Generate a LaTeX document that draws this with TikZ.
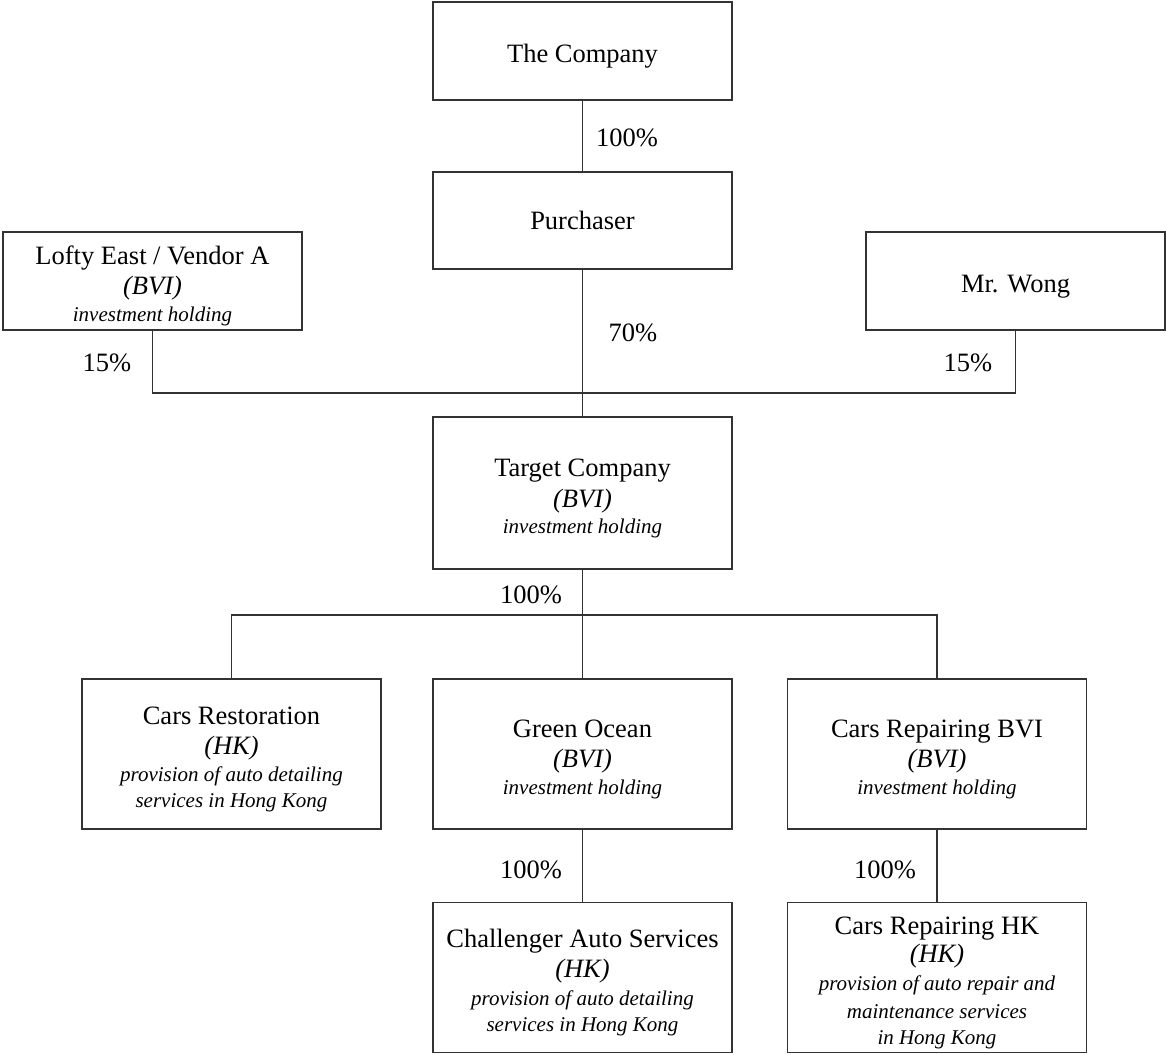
\documentclass[tikz,border=0pt]{standalone}
\usepackage{fontspec}
\setmainfont{Liberation Serif}
\newcommand{\subline}{\fontsize{8.4}{10.4}\selectfont\itshape}
\newcommand{\placeline}{\itshape}
\newcommand{\topstrut}{\rule{0pt}{11.4pt}}

\begin{document}
\begin{tikzpicture}
[x=0.4pt,y=-0.4pt,
  boxdecorate/.style={shape=rectangle,draw=black!80,line width=0.7pt,inner sep=0pt,%
    minimum width=119.6pt,align=center,font=\fontsize{10.6}{10.4}\selectfont},
  shortbox/.style={boxdecorate,minimum height=39pt},
  tallbox/.style={boxdecorate,minimum height=60pt},
  linedecorate/.style={-,draw=black!80,line width=0.6pt},
  pctdecorate/.style={inner sep=0pt,font=\fontsize{10.6}{12}\selectfont}]
\useasboundingbox (0,0) rectangle (1166,1054);
%% boxes
\node (company) at (582.5,51) [shortbox] {\topstrut The Company};
\node (purchaser) at (582.5,220.5) [shortbox] {Purchaser};
\node (lofty) at (152.5,281) [shortbox] {\topstrut Lofty East / Vendor A\\[1.6pt]
  \placeline (BVI)\\[0.6pt] \subline investment holding};
\node (wong) at (1015.5,281) [shortbox] {\topstrut Mr. Wong};
\node (target) at (582.5,493) [tallbox,minimum height=60.8pt] {\topstrut Target Company\\[1.8pt]
  \placeline (BVI)\\[0.2pt] \subline investment holding};
%% subsidiaries
\node (restoration) at (231.5,754) [tallbox] {\topstrut Cars Restoration\\[1.6pt]
  \placeline (HK)\\[0.6pt] \subline provision of auto detailing\\
  \subline services in Hong Kong};
\node (greenocean) at (582.5,754) [tallbox] {\topstrut Green Ocean\\[1.6pt]
  \placeline (BVI)\\[0.6pt] \subline investment holding};
\node (repairbvi) at (937,754) [tallbox] {\topstrut Cars Repairing BVI\\[1.6pt]
  \placeline (BVI)\\[0.6pt] \subline investment holding};
\node (challenger) at (582.5,977.5) [tallbox] {\topstrut Challenger Auto Services\\[1.6pt]
  \placeline (HK)\\[0.6pt] \subline provision of auto detailing\\
  \subline services in Hong Kong};
\node (repairhk) at (937,977.5) [tallbox] {\topstrut Cars Repairing HK\\[0.6pt]
  \placeline (HK)\\[1pt] \subline provision of auto repair and\\[0.8pt]
  \subline maintenance services\\ \subline in Hong Kong};
%% lines
\coordinate (topbus) at (582.5,393);
\coordinate (lowbus) at (582.5,615);
\path
\foreach \startnode/\endnode in {company/purchaser, purchaser/target,
  target/greenocean, greenocean/challenger, repairbvi/repairhk}
{
  (\startnode) edge[linedecorate] (\endnode)
};
\draw[linedecorate] (lofty.south) |- (topbus) -| (wong.south);
\draw[linedecorate] (restoration.north) |- (lowbus) -| (repairbvi.north);
%% shareholdings
\foreach \labelname/\x/\y/\share in {pctcompany/627/138/100,
  pctpurchaser/633/333/70, pctlofty/107/363/15, pctwong/968/363/15,
  pcttarget/531/595/100, pctgreen/531/870/100, pctrepair/885/870/100}
{
  \node (\labelname) at (\x,\y) [pctdecorate] {\share\%};
}
\end{tikzpicture}
\end{document}
